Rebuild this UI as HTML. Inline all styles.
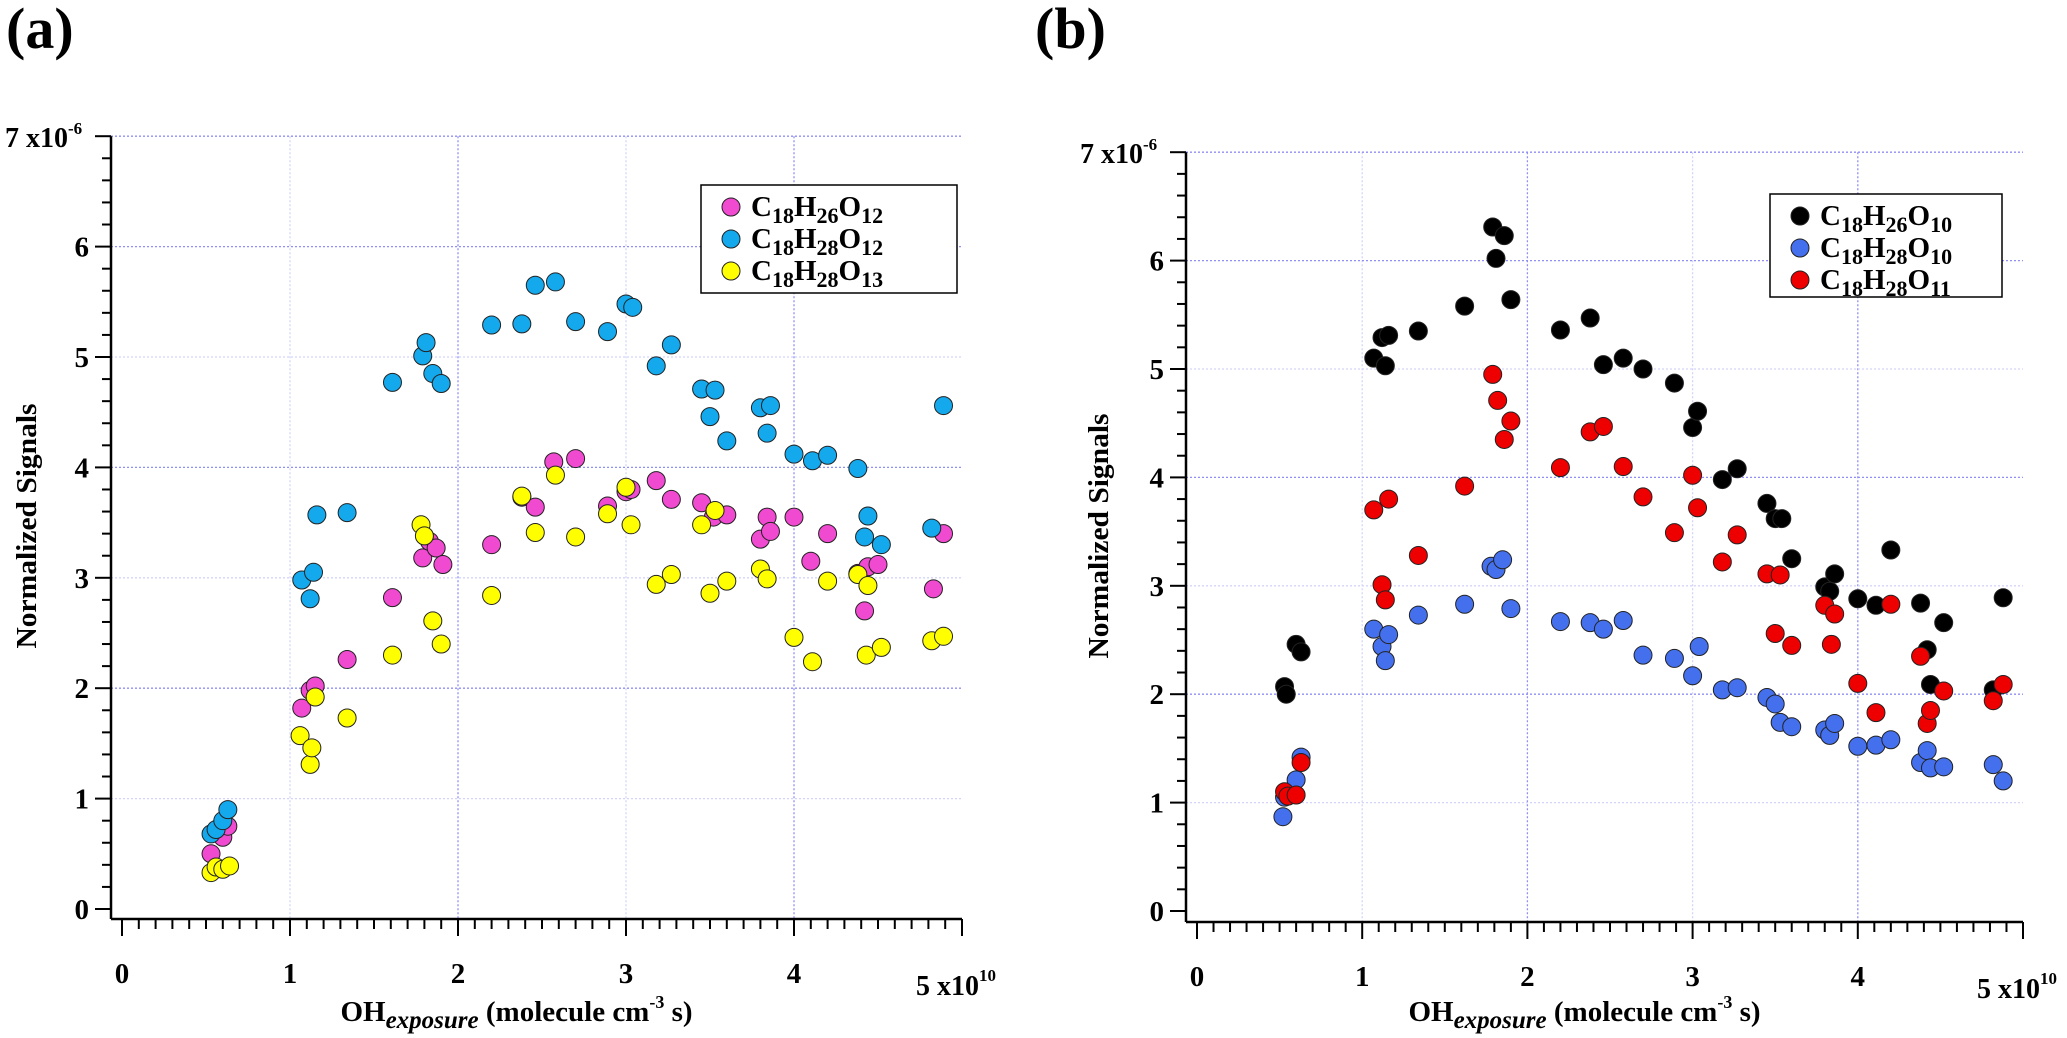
<!DOCTYPE html>
<html><head><meta charset="utf-8"><style>
html,body{margin:0;padding:0;background:#fff;}
svg{display:block;font-family:"Liberation Serif",serif;font-weight:bold;}
</style></head><body>
<svg id="chart" width="2067" height="1038" viewBox="0 0 2067 1038" xmlns="http://www.w3.org/2000/svg">
<text x="6" y="48" font-size="58">(a)</text>
<text x="1035" y="48" font-size="58">(b)</text>
<g id="pa"></g>
<g id="pb"></g>
</svg>
<script>
const xTicks = [0,1,2,3,4];
const yTicks = [0,1,2,3,4,5,6];
const aNames = ["C18H26O12","C18H28O12","C18H28O13"];
const aPinkX = [0.53,0.6,0.63,1.07,1.12,1.15,1.34,1.61,1.79,1.83,1.87,1.91,2.2,2.38,2.46,2.57,2.7,2.89,3.0,3.03,3.18,3.27,3.45,3.52,3.6,3.8,3.84,3.86,4.0,4.1,4.2,4.38,4.42,4.44,4.5,4.83,4.89];
const aPinkY = [0.5,0.65,0.75,1.82,1.98,2.02,2.26,2.82,3.18,3.33,3.27,3.12,3.3,3.73,3.64,4.05,4.08,3.65,3.78,3.8,3.88,3.71,3.68,3.55,3.57,3.35,3.55,3.42,3.55,3.15,3.4,3.04,2.7,3.1,3.12,2.9,3.4];
const aBlueX = [0.53,0.56,0.6,0.63,1.07,1.12,1.14,1.16,1.34,1.61,1.79,1.81,1.85,1.9,2.2,2.38,2.46,2.58,2.7,2.89,3.0,3.04,3.18,3.27,3.45,3.5,3.53,3.6,3.8,3.84,3.86,4.0,4.11,4.2,4.38,4.42,4.44,4.52,4.82,4.89];
const aBlueY = [0.68,0.72,0.8,0.9,2.98,2.81,3.05,3.57,3.59,4.77,5.01,5.13,4.85,4.76,5.29,5.3,5.65,5.68,5.32,5.23,5.48,5.45,4.92,5.11,4.71,4.46,4.7,4.24,4.54,4.31,4.56,4.12,4.06,4.11,3.99,3.37,3.56,3.3,3.45,4.56];
const aYelX = [0.53,0.56,0.6,0.64,1.06,1.12,1.13,1.15,1.34,1.61,1.78,1.8,1.85,1.9,2.2,2.38,2.46,2.58,2.7,2.89,3.0,3.03,3.18,3.27,3.45,3.5,3.53,3.6,3.8,3.84,4.0,4.11,4.2,4.38,4.43,4.44,4.52,4.82,4.89];
const aYelY = [0.33,0.38,0.36,0.39,1.57,1.31,1.46,1.92,1.73,2.3,3.48,3.38,2.61,2.4,2.84,3.74,3.41,3.93,3.37,3.58,3.82,3.48,2.94,3.03,3.48,2.86,3.61,2.97,3.08,2.99,2.46,2.24,2.97,3.03,2.3,2.93,2.37,2.43,2.47];
const bNames = ["C18H26O10","C18H28O10","C18H28O11"];
const bBlackX = [0.53,0.54,0.6,0.63,1.07,1.12,1.14,1.16,1.34,1.62,1.79,1.81,1.86,1.9,2.2,2.38,2.46,2.58,2.7,2.89,3.0,3.03,3.18,3.27,3.45,3.5,3.54,3.6,3.8,3.83,3.86,4.0,4.11,4.2,4.38,4.42,4.44,4.52,4.82,4.88];
const bBlackY = [2.07,2.0,2.46,2.39,5.1,5.29,5.03,5.31,5.35,5.58,6.31,6.02,6.23,5.64,5.36,5.47,5.04,5.1,5.0,4.87,4.46,4.61,3.98,4.08,3.76,3.62,3.62,3.25,2.99,2.95,3.11,2.88,2.82,3.33,2.84,2.41,2.09,2.66,2.04,2.89];
const bRedX = [0.53,0.55,0.6,0.63,1.07,1.12,1.14,1.16,1.34,1.62,1.79,1.82,1.86,1.9,2.2,2.38,2.46,2.58,2.7,2.89,3.0,3.03,3.18,3.27,3.45,3.5,3.53,3.6,3.8,3.84,3.86,4.0,4.11,4.2,4.38,4.42,4.44,4.52,4.82,4.88];
const bRedY = [1.1,1.06,1.07,1.37,3.7,3.01,2.87,3.8,3.28,3.92,4.95,4.71,4.35,4.52,4.09,4.42,4.47,4.1,3.82,3.49,4.02,3.72,3.22,3.47,3.11,2.56,3.1,2.45,2.82,2.46,2.74,2.1,1.83,2.83,2.35,1.73,1.85,2.03,1.94,2.09];
const bBlueX = [0.52,0.53,0.6,0.63,1.07,1.12,1.14,1.16,1.34,1.62,1.78,1.81,1.85,1.9,2.2,2.38,2.46,2.58,2.7,2.89,3.0,3.04,3.18,3.27,3.45,3.5,3.53,3.6,3.8,3.83,3.86,4.0,4.11,4.2,4.38,4.42,4.44,4.52,4.82,4.88];
const bBlueY = [0.87,1.05,1.21,1.42,2.6,2.44,2.31,2.55,2.73,2.83,3.18,3.15,3.24,2.79,2.67,2.66,2.6,2.68,2.36,2.33,2.17,2.44,2.04,2.06,1.97,1.91,1.74,1.7,1.67,1.62,1.73,1.52,1.53,1.58,1.37,1.48,1.32,1.33,1.35,1.2];

const NS="http://www.w3.org/2000/svg";
function mk(parent,tag,attrs,text){const e=document.createElementNS(NS,tag);for(const k in attrs)e.setAttribute(k,attrs[k]);if(text!==undefined)e.textContent=text;parent.appendChild(e);return e;}

function panel(g,P,series,names,legend){
  const X=v=>P.x0+v*P.ux, Y=v=>P.y0-v*P.uy;
  const xEnd=X(5), yTop=Y(7);
  for(let i=1;i<=4;i++){const l=mk(g,'line',{x1:X(i),x2:X(i),y1:yTop,y2:P.ay,stroke:(i%2==0)?'#8f8ff5':'#d4d4fb','stroke-width':1.3,'stroke-dasharray':'2,2'});
    
    }
  for(let i=1;i<=7;i++){const l=mk(g,'line',{x1:P.ax,x2:xEnd,y1:Y(i),y2:Y(i),stroke:(i%2==0||i==7)?'#8f8ff5':'#d4d4fb','stroke-width':1.3,'stroke-dasharray':'2,2'});
    
    }
  const ya=mk(g,'line',{x1:P.ax,x2:P.ax,y1:yTop,y2:P.ay,stroke:'#000','stroke-width':2.5});
  
  
  const xa=mk(g,'line',{x1:P.ax,x2:xEnd,y1:P.ay,y2:P.ay,stroke:'#000','stroke-width':2.5});
  
  
  for(let i=0;i<=35;i++){const v=i/5,maj=i%5==0;const t=mk(g,'line',{x1:P.ax-(maj?16:9),x2:P.ax,y1:Y(v),y2:Y(v),stroke:'#000','stroke-width':2});
    
    }
  for(let i=0;i<=50;i++){const v=i/10,maj=i%10==0;const t=mk(g,'line',{x1:X(v),x2:X(v),y1:P.ay,y2:P.ay+(maj?17:10),stroke:'#000','stroke-width':2});
    
    }
  yTicks.forEach(v=>{const t=mk(g,'text',{x:P.ax-22,y:Y(v)+10,'font-size':29,'text-anchor':'end'},String(v));
    
    });
  const y7=mk(g,'text',{x:P.ax-106,y:yTop+11,'font-size':28},'7 x10');
  
  
  mk(y7,'tspan',{dy:-13,'font-size':17},'-6');
  xTicks.forEach(v=>{const t=mk(g,'text',{x:X(v),y:P.ay+64,'font-size':29,'text-anchor':'middle'},String(v));
    
    });
  const x5=mk(g,'text',{x:X(5)-46,y:P.ay+76,'font-size':28},'5 x10');
  
  
  mk(x5,'tspan',{dy:-14,'font-size':17},'10');
  const yt=mk(g,'text',{x:0,y:0,'font-size':28,'text-anchor':'middle',textLength:245,lengthAdjust:'spacingAndGlyphs',transform:`translate(${P.ytx},${P.ytc}) rotate(-90)`},'Normalized Signals');
  
  
  const xt=mk(g,'text',{x:(P.ax+xEnd)/2-20,y:1021,'font-size':29,'text-anchor':'middle'});
  
  
  mk(xt,'tspan',{},'OH');
  mk(xt,'tspan',{'font-style':'italic',dy:7,'font-size':25},'exposure');
  mk(xt,'tspan',{dy:-7},' (molecule cm');
  mk(xt,'tspan',{dy:-13,'font-size':18},'-3');
  mk(xt,'tspan',{dy:13},' s)');
  series.forEach(s=>{s.x.forEach((xv,i)=>{const c=mk(g,'circle',{cx:X(xv),cy:Y(s.y[i]),r:9,fill:s.c,stroke:'#222','stroke-width':1});
    
    });});
  const L=legend;
  const lb=mk(g,'rect',{x:L.x,y:L.y,width:L.w,height:L.h,fill:'#fff',stroke:'#000','stroke-width':1.5});
  
  
  series.forEach((s,i)=>{const cy=L.y+22+i*32;
    const c=mk(g,'circle',{cx:L.x+30,cy:cy,r:9,fill:s.c,stroke:'#222','stroke-width':1});
    
    
    const nm=names[i];const m=nm.match(/C(\d+)H(\d+)O(\d+)/);
    const t=mk(g,'text',{x:L.x+50,y:cy+9,'font-size':29});
    
    
    mk(t,'tspan',{},'C');mk(t,'tspan',{dy:7,'font-size':22},m[1]);mk(t,'tspan',{dy:-7},'H');mk(t,'tspan',{dy:7,'font-size':22},m[2]);mk(t,'tspan',{dy:-7},'O');mk(t,'tspan',{dy:7,'font-size':22},m[3]);
  });
}
panel(document.getElementById('pa'),{x0:122,ux:168,y0:909,uy:110.4,ax:111,ay:919,ytx:36,ytc:526},
  [{x:aPinkX,y:aPinkY,c:'#f04ad0',n:'point-c18h26o12'},{x:aBlueX,y:aBlueY,c:'#14a8ec',n:'point-c18h28o12'},{x:aYelX,y:aYelY,c:'#ffff00',n:'point-c18h28o13'}],
  aNames,{x:701,y:185,w:256,h:108});
panel(document.getElementById('pb'),{x0:1197,ux:165.2,y0:911,uy:108.4,ax:1186,ay:922,ytx:1108,ytc:536},
  [{x:bBlackX,y:bBlackY,c:'#000000',n:'point-c18h26o10'},{x:bBlueX,y:bBlueY,c:'#4470ee',n:'point-c18h28o10'},{x:bRedX,y:bRedY,c:'#ee0000',n:'point-c18h28o11'}],
  bNames,{x:1770,y:194,w:232,h:103});
</script>
</body></html>
